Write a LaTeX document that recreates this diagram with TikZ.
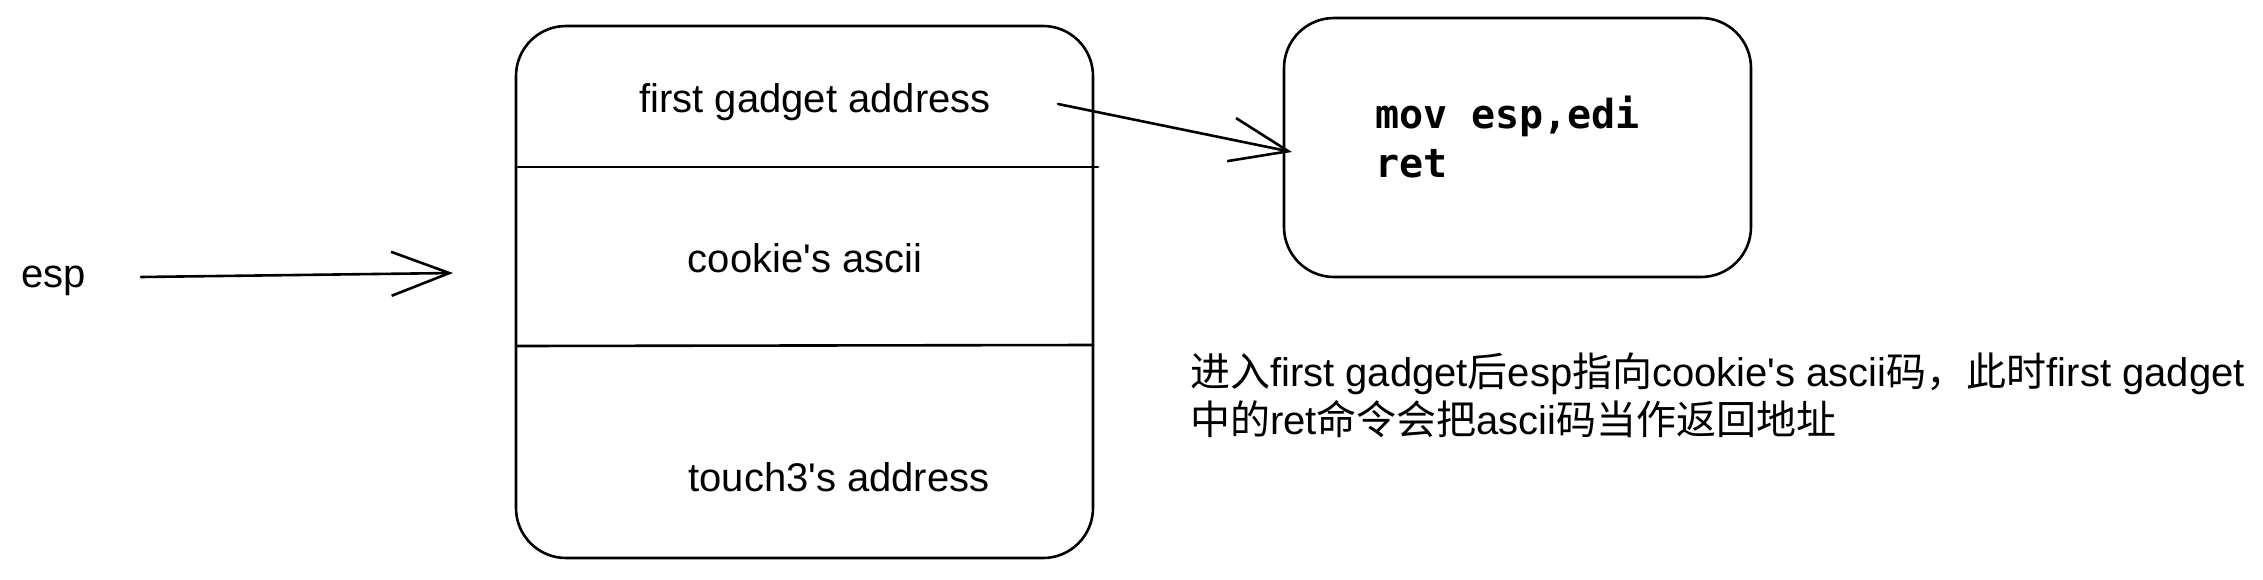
\documentclass[tikz,border=0pt]{standalone}
\usepackage{fontspec}
\setmainfont[Ligatures=TeXOff]{Liberation Sans}
\newfontfamily\cjk{Noto Sans CJK SC}
\newfontfamily\monofont[Ligatures=TeXOff]{DejaVu Sans Mono}
\usetikzlibrary{arrows.meta}
\begin{document}
\begin{tikzpicture}[x=1pt,y=-1pt,
  line width=2.6pt, line cap=round, line join=round,
  every node/.style={inner sep=0pt, outer sep=0pt},
  txt/.style={font=\fontsize{40}{48}\selectfont},
  codetxt/.style={font=\fontsize{40}{48}\selectfont\monofont\bfseries},
  sketchbox/.style={draw, rounded corners=50pt},
  sketcharrow/.style={-{Straight Barb[length=58pt,width=44pt]}}]
\useasboundingbox (0,0) rectangle (2263,579);
% stack box
\node[sketchbox, minimum width=577pt, minimum height=532pt] (stack) at (804.5,292) {};
\draw (518,167) -- (1098,167);
\draw (516,346) -- (1093,345);
\node[txt, anchor=base] (fga) at (815,112) {first gadget address};
\node[txt, anchor=base] (cka) at (805,272) {cookie's ascii};
\node[txt, anchor=base] (t3a) at (839,491) {touch3's address};
% esp
\node[txt, anchor=base west] (esp) at (21,287) {esp};
\coordinate (espS) at (141,277);
\coordinate (espE) at (453,273);
\draw[sketcharrow] (espS) -- (espE);
% gadget box
\node[sketchbox, minimum width=467pt, minimum height=259pt] (gadget) at (1517.5,147.5) {};
\node[codetxt, anchor=base west] (mov) at (1375,128) {mov esp,edi};
\node[codetxt, anchor=base west] (ret) at (1375,177) {ret};
\coordinate (gS) at (1058,104);
\coordinate (gE) at (1292,152);
\draw[sketcharrow] (gS) -- (gE);
% note
\node[txt, anchor=base west] (note1) at (1190,386) {{\cjk 进入}first gadget{\cjk 后}esp{\cjk 指向}cookie's ascii{\cjk 码，此时}first gadget};
\node[txt, anchor=base west] (note2) at (1190,434) {{\cjk 中的}ret{\cjk 命令会把}ascii{\cjk 码当作返回地址}};
\end{tikzpicture}
\end{document}
